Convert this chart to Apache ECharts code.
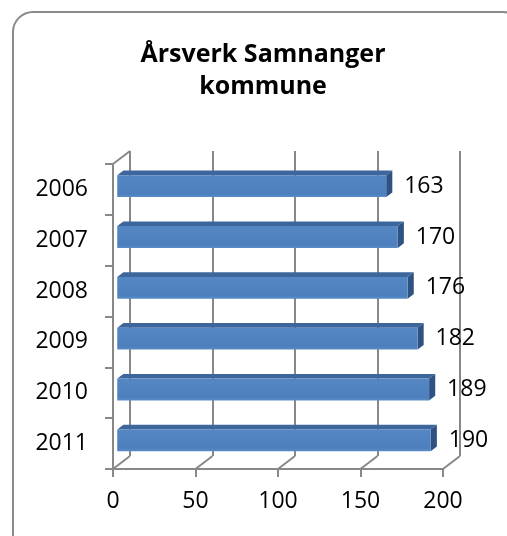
<!DOCTYPE html>
<html>
<head>
<meta charset="utf-8">
<script src="https://cdn.jsdelivr.net/npm/echarts@6/dist/echarts.min.js"></script>
<style>
    html, body { margin: 0; padding: 0; background: #fff; }
    #chart { width: 507px; height: 536px; }
</style>
</head>
<body>
<div id="chart"></div>
<script type="text/javascript">
// data
const years = ['2006', '2007', '2008', '2009', '2010', '2011'];
const values = [163, 170, 176, 182, 189, 190];
const xMin = 0, xMax = 200, xStep = 50;
const xTicks = [0, 50, 100, 150, 200];
const titleText = 'Årsverk Samnanger\nkommune';

const FONT = '"Open Sans", sans-serif';
const GREY = '#888888';
const DEPTH = [17, -13];          // front plane -> back plane
const BAR_OFF = 0.25, BAR_DEPTH = 0.36; // bar position inside the depth

const chart = echarts.init(document.getElementById('chart'));

function renderBar(params, api) {
    let v = api.value(0), idx = api.value(1);
    let start = api.coord([0, idx]);
    let end = api.coord([v, idx]);
    let h = api.size([0, 1])[1] * 0.43;
    let ox = DEPTH[0] * BAR_OFF, oy = DEPTH[1] * BAR_OFF;
    let dx = DEPTH[0] * BAR_DEPTH, dy = DEPTH[1] * BAR_DEPTH;
    let x0 = start[0] + ox, x1 = end[0] + ox;
    let y0 = start[1] + oy - h / 2, y1 = y0 + h;
    return {
        type: 'group',
        children: [
            {
                type: 'polygon',
                shape: { points: [[x0, y0], [x0 + dx, y0 + dy], [x1 + dx, y0 + dy], [x1, y0]] },
                style: { fill: '#3d679c' }
            },
            {
                type: 'polygon',
                shape: { points: [[x1, y0], [x1 + dx, y0 + dy], [x1 + dx, y1 + dy], [x1, y1]] },
                style: { fill: '#2f5282' }
            },
            {
                type: 'rect',
                shape: { x: x0, y: y0, width: x1 - x0, height: h },
                style: {
                    fill: new echarts.graphic.LinearGradient(0, 0, 0, 1, [
                        { offset: 0, color: '#5487c4' },
                        { offset: 0.85, color: '#4d7fbc' },
                        { offset: 1, color: '#5a8cc8' }
                    ])
                }
            },
            {
                type: 'text',
                x: x1 + 18,
                y: start[1] + oy,
                style: {
                    text: String(v),
                    fontFamily: FONT,
                    fontSize: 23,
                    fill: '#000',
                    verticalAlign: 'middle'
                }
            }
        ]
    };
}

// diagonal edges of floor and left wall
function renderEdge(params, api) {
    let v = api.value(0);
    let cs = params.coordSys;
    let x = api.coord([v, 0])[0];
    let lines = [];
    let bottom = cs.y + cs.height;
    lines.push({
        type: 'line',
        shape: { x1: x, y1: bottom, x2: x + DEPTH[0], y2: bottom + DEPTH[1] },
        style: { stroke: GREY, lineWidth: 2 }
    });
    if (v === xMin) {
        lines.push({
            type: 'line',
            shape: { x1: x, y1: cs.y, x2: x + DEPTH[0], y2: cs.y + DEPTH[1] },
            style: { stroke: GREY, lineWidth: 2 }
        });
    }
    return { type: 'group', children: lines };
}

let option = {
    animation: false,
    backgroundColor: '#fff',
    graphic: [
        {
            type: 'rect',
            shape: { x: 13, y: 12, width: 510, height: 545, r: 20 },
            style: { fill: 'none', stroke: '#8a8a8a', lineWidth: 2 },
            silent: true
        },
        {
            type: 'text',
            x: 263,
            y: 39,
            style: {
                text: titleText,
                fontFamily: FONT,
                fontWeight: 'bold',
                fontSize: 25,
                lineHeight: 32,
                align: 'center',
                fill: '#000'
            }
        }
    ],
    grid: [
        { left: 113, top: 164, width: 330, height: 305 },
        { left: 113 + DEPTH[0], top: 164 + DEPTH[1], width: 330, height: 305 }
    ],
    xAxis: [
        {
            type: 'value', gridIndex: 0,
            min: xMin, max: xMax, interval: xStep,
            axisLine: { show: true, lineStyle: { color: GREY, width: 2 } },
            axisTick: { show: true, length: 8, lineStyle: { color: GREY, width: 2 } },
            axisLabel: { fontFamily: FONT, fontSize: 23, color: '#000', margin: 21 },
            splitLine: { show: false }
        },
        {
            type: 'value', gridIndex: 1,
            min: xMin, max: xMax, interval: xStep,
            axisLine: { show: false },
            axisTick: { show: false },
            axisLabel: { show: false },
            splitLine: { show: true, lineStyle: { color: GREY, width: 2 } }
        }
    ],
    yAxis: [
        {
            type: 'category', gridIndex: 0,
            data: years, inverse: true,
            axisLine: { show: true, lineStyle: { color: GREY, width: 2 } },
            axisTick: { show: true, length: 8, lineStyle: { color: GREY, width: 2 } },
            axisLabel: { fontFamily: FONT, fontSize: 23, color: '#000', margin: 25 },
            splitLine: { show: false }
        },
        {
            type: 'category', gridIndex: 1,
            data: years, inverse: true,
            show: false
        }
    ],
    series: [
        {
            type: 'custom',
            xAxisIndex: 0, yAxisIndex: 0,
            renderItem: renderEdge,
            data: xTicks.map(t => [t, 0]),
            z: 1,
            silent: true
        },
        {
            type: 'custom',
            xAxisIndex: 0, yAxisIndex: 0,
            renderItem: renderBar,
            encode: { x: 0, y: 1 },
            data: values.map((v, i) => [v, i]),
            z: 3
        }
    ]
};

chart.setOption(option);
</script>
</body>
</html>
